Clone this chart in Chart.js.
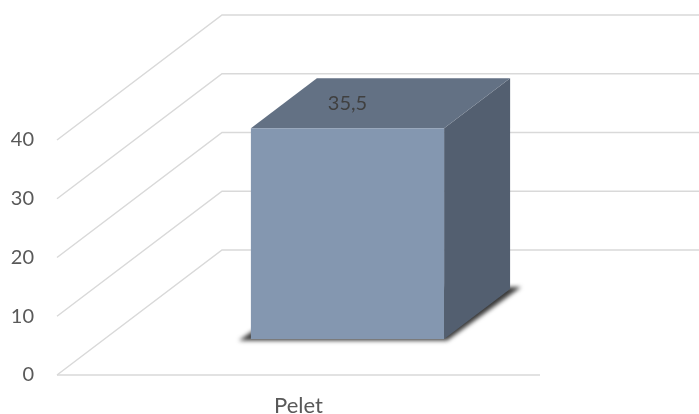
<!DOCTYPE html>
<html>
<head>
<meta charset="utf-8">
<style>
  html, body { margin: 0; padding: 0; background: #fff; }
  canvas { display: block; }
</style>
</head>
<body>
<canvas id="myChart" width="699" height="414"></canvas>
<script src="https://cdn.jsdelivr.net/npm/chart.js@4"></script>
<script>
const categories = ['Pelet'];
const values = [35.5];
const axisMin = 0;
const axisMax = 40;
const axisStep = 10;

// 3D look: how far the floor runs back and where the bar sits on it
const wallDx = 165, wallDy = 125;
const barDx = 49, barDy = 36;
const depthDx = 66, depthDy = 50;

const gridColor = '#d9d9d9';
const fontSize = 20;

function poly(c, pts) {
  c.beginPath();
  pts.forEach((p, i) => i ? c.lineTo(p[0], p[1]) : c.moveTo(p[0], p[1]));
  c.closePath();
}

const box3d = {
  id: 'box3d',
  beforeDatasetsDraw(chart) {
    const c = chart.ctx;
    const { left, right, bottom } = chart.chartArea;
    const yScale = chart.scales.y;

    // walls
    c.save();
    c.strokeStyle = gridColor;
    c.lineWidth = 1.5;
    yScale.ticks.forEach(t => {
      const py = yScale.getPixelForValue(t.value);
      c.beginPath();
      c.moveTo(left, py);
      c.lineTo(left + wallDx, py - wallDy);
      c.lineTo(chart.width, py - wallDy);
      c.stroke();
    });
    c.beginPath();
    c.moveTo(left, bottom);
    c.lineTo(right, bottom);
    c.stroke();
    c.restore();

    const bar = chart.getDatasetMeta(0).data[0];
    const x0 = bar.x - bar.width / 2 + barDx;
    const x1 = bar.x + bar.width / 2 + barDx;
    const top = bar.y - barDy;
    const base = bar.base - barDy;

    // floor shadow, soft edge
    c.save();
    c.filter = 'blur(2px)';
    c.fillStyle = '#3a3a3a';
    poly(c, [
      [x0 - 12, base + 1.5],
      [x1 + 3, base + 1.5],
      [x1 + depthDx + 11, base - depthDy - 2],
      [x0 + depthDx, base - depthDy - 2]
    ]);
    c.fill();
    c.restore();

    // right side
    c.fillStyle = '#535f70';
    poly(c, [[x1, top], [x1 + depthDx, top - depthDy], [x1 + depthDx, base - depthDy], [x1, base]]);
    c.fill();
    // top side
    c.fillStyle = '#637184';
    poly(c, [[x0, top], [x1, top], [x1 + depthDx, top - depthDy], [x0 + depthDx, top - depthDy]]);
    c.fill();

    c.save();
    c.translate(barDx, -barDy);
  },
  afterDatasetsDraw(chart) {
    const c = chart.ctx;
    c.restore();

    const bar = chart.getDatasetMeta(0).data[0];
    c.save();
    c.fillStyle = '#404040';
    c.font = fontSize + 'px Lato, sans-serif';
    c.textAlign = 'center';
    c.textBaseline = 'middle';
    c.fillText(String(values[0]).replace('.', ','), bar.x + barDx, bar.y - barDy - depthDy / 2);
    c.restore();
  }
};

new Chart(document.getElementById('myChart'), {
  type: 'bar',
  data: {
    labels: categories,
    datasets: [{
      data: values,
      yAxisID: 'yBar',
      backgroundColor: '#8497b0',
      barPercentage: 0.4,
      categoryPercentage: 1
    }]
  },
  options: {
    responsive: false,
    animation: false,
    layout: { padding: { top: 140, right: 159, left: 0, bottom: 0 } },
    plugins: { legend: { display: false }, tooltip: { enabled: false } },
    scales: {
      x: {
        grid: { display: false },
        border: { display: false },
        ticks: { color: '#595959', font: { family: 'Lato', size: 22 }, padding: 10 },
        afterFit: s => { s.height = 39; }
      },
      y: {
        min: axisMin,
        max: axisMax,
        grid: { display: false, drawTicks: false },
        border: { display: false },
        ticks: { stepSize: axisStep, color: '#595959', font: { family: 'Lato', size: fontSize }, padding: 23 },
        afterFit: s => { s.width = 57; }
      },
      // bar stands further back, where the wall scale is a little larger
      yBar: {
        display: false,
        min: axisMin,
        max: 39.6
      }
    }
  },
  plugins: [box3d]
});
</script>
</body>
</html>
